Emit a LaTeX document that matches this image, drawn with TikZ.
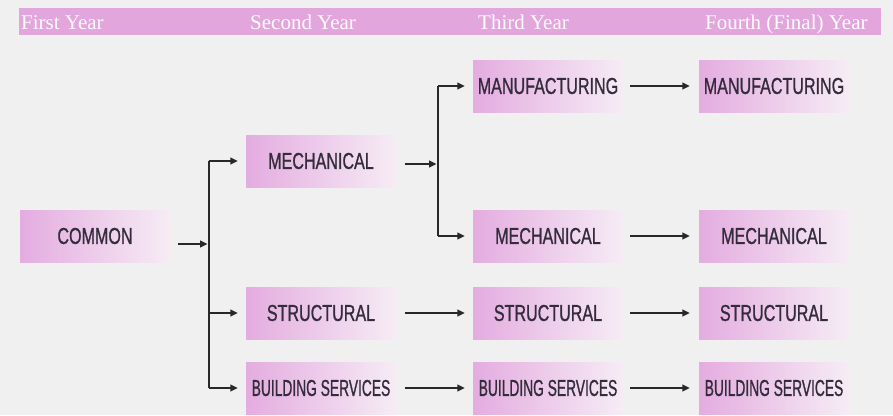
\documentclass[tikz,border=0pt]{standalone}
\usepackage{fontspec}
\newfontfamily\boxfont[FakeStretch=0.7,FakeBold=0.9]{Liberation Sans}
\newfontfamily\narrowfont[FakeStretch=0.6,FakeBold=0.9]{Liberation Sans}
\newfontfamily\headfont{Liberation Serif}
\usetikzlibrary{arrows.meta}
\definecolor{bgray}{RGB}{241,240,241}
\definecolor{pinkbar}{RGB}{226,166,221}
\definecolor{pinkbox}{RGB}{228,172,224}
\definecolor{pinkfade}{RGB}{246,236,245}
\definecolor{inkgray}{RGB}{52,44,60}
\definecolor{linegray}{RGB}{40,40,40}

\begin{document}
\begin{tikzpicture}[x=1pt,y=-1pt,
  course/.style={minimum width=150pt,minimum height=52pt,inner sep=0pt,
    left color=pinkbox,right color=pinkfade,text=inkgray,
    font=\boxfont\fontsize{23}{24}\selectfont},
  narrow/.style={font=\narrowfont\fontsize{23}{24}\selectfont},
  yearlabel/.style={anchor=base west,inner sep=0pt,text=white!95!pinkbar,
    font=\headfont\fontsize{21}{22}\selectfont},
  rail/.style={draw=linegray,line width=1.4pt},
  flow/.style={rail,-{Triangle[length=7.5pt,width=7pt]}}]
\path[use as bounding box,fill=bgray] (0,0) rectangle (893,415);

% year bar
\fill[pinkbar] (19,8) rectangle (881,35);
\node[yearlabel] (y1) at (21,29) {First Year};
\node[yearlabel] (y2) at (250,29) {Second Year};
\node[yearlabel] (y3) at (478,29) {Third Year};
\node[yearlabel] (y4) at (705,29) {Fourth (Final) Year};

% courses
\node[course] (common) at (95,236) {COMMON};
\node[course] (mech2) at (321,161) {MECHANICAL};
\node[course] (struct2) at (321,313) {STRUCTURAL};
\node[course,narrow] (serv2) at (321,388) {BUILDING SERVICES};
\node[course] (manuf3) at (548,86) {MANUFACTURING};
\node[course] (mech3) at (548,236) {MECHANICAL};
\node[course] (struct3) at (548,313) {STRUCTURAL};
\node[course,narrow] (serv3) at (548,388) {BUILDING SERVICES};
\node[course] (manuf4) at (774,86) {MANUFACTURING};
\node[course] (mech4) at (774,236) {MECHANICAL};
\node[course] (struct4) at (774,313) {STRUCTURAL};
\node[course,narrow] (serv4) at (774,388) {BUILDING SERVICES};

\coordinate (split1) at (209,244);
\coordinate (split2) at (438,164);

% first split
\draw[flow,shorten >=1.5pt] ([xshift=8pt,yshift=-8pt]common.east) -- (split1);
\draw[rail] (split1 |- mech2) -- (split1 |- serv2);
\foreach \c in {mech2,struct2,serv2}
  \draw[flow] (split1 |- \c) -- ([xshift=-8pt]\c.west);

% second split
\draw[flow,shorten >=1.5pt] ([xshift=9pt,yshift=-3pt]mech2.east) -- (split2);
\draw[rail] (split2 |- manuf3) -- (split2 |- mech3);
\foreach \c in {manuf3,mech3}
  \draw[flow] (split2 |- \c) -- ([xshift=-8pt]\c.west);

% straight on
\draw[flow] ([xshift=9pt]struct2.east) -- ([xshift=-8pt]struct3.west);
\draw[flow] ([xshift=9pt]serv2.east) -- ([xshift=-8pt]serv3.west);
\foreach \a/\b in {manuf3/manuf4,mech3/mech4,struct3/struct4,serv3/serv4}
  \draw[flow] ([xshift=7pt]\a.east) -- ([xshift=-9pt]\b.west);
\end{tikzpicture}
\end{document}
